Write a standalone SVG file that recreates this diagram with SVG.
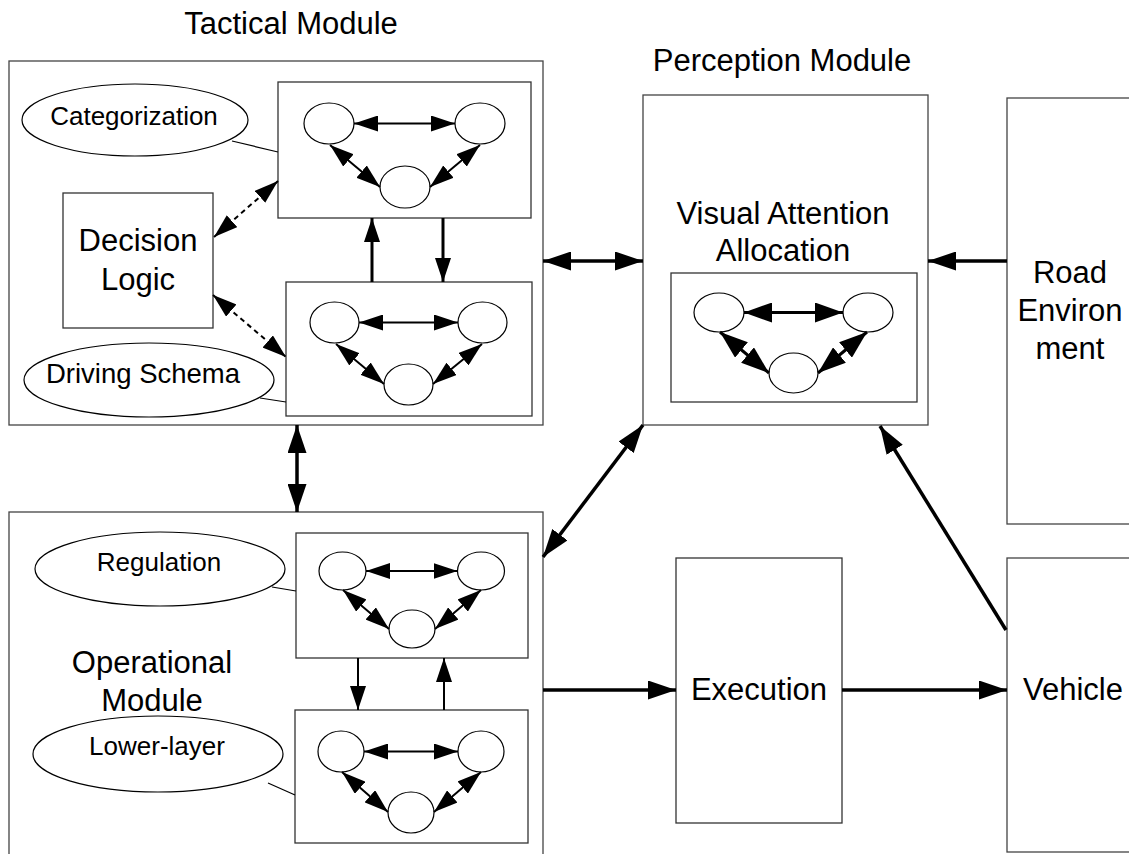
<svg xmlns="http://www.w3.org/2000/svg" width="1129" height="854" viewBox="0 0 1129 854">
<style>
.box{fill:#fff;stroke:#333;stroke-width:1.3}
.obox{fill:none;stroke:#444;stroke-width:1.3}
.el{fill:#fff;stroke:#000;stroke-width:1.2}
.t{font-family:"Liberation Sans",Arial,sans-serif;fill:#000;text-anchor:middle}
.big{font-size:31px}
.sm{font-size:26px}
.a{stroke:#000;fill:none}
.w35{stroke-width:3.5}
.w3{stroke-width:3}
.w2{stroke-width:2}
.dash{stroke-width:2;stroke-dasharray:5 4}
.ln{stroke:#000;stroke-width:1.2;fill:none}
</style>
<defs>
<marker id="h" viewBox="0 0 28 19" refX="28" refY="9.5" markerWidth="28" markerHeight="19" markerUnits="userSpaceOnUse" orient="auto-start-reverse"><path d="M0,0 L28,9.5 L0,19 z" fill="#000"/></marker>
<marker id="s" viewBox="0 0 24 16" refX="24" refY="8" markerWidth="24" markerHeight="16" markerUnits="userSpaceOnUse" orient="auto-start-reverse"><path d="M0,0 L24,8 L0,16 z" fill="#000"/></marker>
<marker id="p" viewBox="0 0 28 20" refX="28" refY="10" markerWidth="28" markerHeight="20" markerUnits="userSpaceOnUse" orient="auto-start-reverse"><path d="M0,0 L28,10 L0,20 z" fill="#000"/></marker>
</defs>

<g id="tactical">
<rect class="obox" x="9" y="61" width="534" height="364"/>
<text class="t big" x="291" y="34">Tactical Module</text>
</g>
<g id="categorization">
<ellipse class="el" cx="135" cy="120" rx="113" ry="36"/>
<text class="t sm" x="134" y="125">Categorization</text>
</g>
<g id="decision-logic">
<rect class="box" x="63" y="193" width="150" height="135"/>
<text class="t big" x="138" y="251">Decision</text>
<text class="t big" x="138" y="290">Logic</text>
</g>
<g id="driving-schema">
<ellipse class="el" cx="149" cy="380" rx="125" ry="37"/>
<text class="t" style="font-size:27.5px" x="143" y="383">Driving Schema</text>
</g>
<g id="tac-net1">
<rect class="box" x="278" y="82" width="253" height="136"/>
<ellipse class="el" cx="329" cy="123.5" rx="25" ry="20.5"/>
<ellipse class="el" cx="480" cy="123.5" rx="25" ry="20.5"/>
<ellipse class="el" cx="405" cy="187" rx="25" ry="21"/>
</g>
<g id="tac-net2">
<rect class="box" x="286" y="282" width="246" height="134"/>
<ellipse class="el" cx="334.5" cy="322.5" rx="24.5" ry="20.5"/>
<ellipse class="el" cx="482.5" cy="322.5" rx="24.5" ry="20.5"/>
<ellipse class="el" cx="408.5" cy="384.5" rx="24.5" ry="20.5"/>
</g>

<g id="perception">
<rect class="obox" x="643" y="95" width="285" height="330"/>
<text class="t big" x="782" y="71">Perception Module</text>
<text class="t big" x="783" y="224">Visual Attention</text>
<text class="t big" x="783" y="261">Allocation</text>
</g>
<g id="perc-net">
<rect class="box" x="671" y="273" width="246" height="129"/>
<ellipse class="el" cx="719" cy="312.5" rx="25" ry="19.5"/>
<ellipse class="el" cx="868" cy="312.5" rx="25" ry="19.5"/>
<ellipse class="el" cx="793.5" cy="373" rx="24.5" ry="20"/>
</g>

<g id="road-environment">
<rect class="obox" x="1007" y="98" width="140" height="426"/>
<text class="t big" x="1070" y="283">Road</text>
<text class="t big" x="1070" y="321">Environ</text>
<text class="t big" x="1070" y="359">ment</text>
</g>

<g id="operational">
<rect class="obox" x="9" y="512" width="534" height="350"/>
<text class="t big" x="152" y="673">Operational</text>
<text class="t big" x="152" y="711">Module</text>
</g>
<g id="regulation">
<ellipse class="el" cx="160" cy="569" rx="125" ry="37"/>
<text class="t sm" x="159" y="571">Regulation</text>
</g>
<g id="lower-layer">
<ellipse class="el" cx="158" cy="754" rx="125" ry="38"/>
<text class="t sm" x="157" y="755">Lower-layer</text>
</g>
<g id="op-net1">
<rect class="box" x="296" y="533" width="232" height="125"/>
<ellipse class="el" cx="342.5" cy="571" rx="23.5" ry="19"/>
<ellipse class="el" cx="481" cy="571" rx="23.5" ry="19"/>
<ellipse class="el" cx="412" cy="629" rx="23" ry="19"/>
</g>
<g id="op-net2">
<rect class="box" x="295" y="710" width="233" height="133"/>
<ellipse class="el" cx="341" cy="751.5" rx="23" ry="20.5"/>
<ellipse class="el" cx="481" cy="751.5" rx="23" ry="20.5"/>
<ellipse class="el" cx="411" cy="812.5" rx="23" ry="20.5"/>
</g>

<g id="execution">
<rect class="box" x="676" y="558" width="166" height="265"/>
<text class="t big" x="759" y="700">Execution</text>
</g>
<g id="vehicle">
<rect class="obox" x="1007" y="558" width="140" height="294"/>
<text class="t big" x="1073" y="700">Vehicle</text>
</g>

<g id="connectors">
<line class="ln" x1="232" y1="141" x2="278" y2="152"/>
<line class="ln" x1="260" y1="398" x2="286" y2="402"/>
<line class="ln" x1="272" y1="587" x2="296" y2="591"/>
<line class="ln" x1="268" y1="783" x2="295" y2="795"/>
<line class="a dash" x1="214" y1="237" x2="278" y2="181" marker-start="url(#s)" marker-end="url(#s)"/>
<line class="a dash" x1="213" y1="295" x2="286" y2="357" marker-start="url(#s)" marker-end="url(#s)"/>
<line class="a w3" x1="372" y1="282" x2="372" y2="218" marker-end="url(#s)"/>
<line class="a w3" x1="443" y1="218" x2="443" y2="282" marker-end="url(#s)"/>
<line class="a w2" x1="358" y1="658" x2="358" y2="710" marker-end="url(#s)"/>
<line class="a w2" x1="444" y1="710" x2="444" y2="658" marker-end="url(#s)"/>
<line class="a w2" x1="354" y1="123.5" x2="455" y2="123.5" marker-start="url(#s)" marker-end="url(#s)"/>
<line class="a w2" x1="330" y1="145" x2="380" y2="187" marker-start="url(#s)" marker-end="url(#s)"/>
<line class="a w2" x1="480" y1="145" x2="430" y2="187" marker-start="url(#s)" marker-end="url(#s)"/>
<line class="a w2" x1="359" y1="322.5" x2="458" y2="322.5" marker-start="url(#s)" marker-end="url(#s)"/>
<line class="a w2" x1="336" y1="344" x2="384" y2="384" marker-start="url(#s)" marker-end="url(#s)"/>
<line class="a w2" x1="482" y1="344" x2="433" y2="384" marker-start="url(#s)" marker-end="url(#s)"/>
<line class="a w2" x1="366" y1="571" x2="457.5" y2="571" marker-start="url(#s)" marker-end="url(#s)"/>
<line class="a w2" x1="343" y1="590" x2="389" y2="629" marker-start="url(#s)" marker-end="url(#s)"/>
<line class="a w2" x1="481" y1="590" x2="435" y2="629" marker-start="url(#s)" marker-end="url(#s)"/>
<line class="a w2" x1="364" y1="751.5" x2="458" y2="751.5" marker-start="url(#s)" marker-end="url(#s)"/>
<line class="a w2" x1="342" y1="772" x2="388" y2="812" marker-start="url(#s)" marker-end="url(#s)"/>
<line class="a w2" x1="481" y1="772" x2="434" y2="812" marker-start="url(#s)" marker-end="url(#s)"/>
<line class="a w3" x1="744" y1="312.5" x2="843" y2="312.5" marker-start="url(#p)" marker-end="url(#p)"/>
<line class="a w3" x1="720" y1="332" x2="769" y2="373" marker-start="url(#p)" marker-end="url(#p)"/>
<line class="a w3" x1="867" y1="332" x2="818" y2="373" marker-start="url(#p)" marker-end="url(#p)"/>
<line class="a w35" x1="543" y1="261" x2="643" y2="261" marker-start="url(#h)" marker-end="url(#h)"/>
<line class="a w35" x1="297" y1="425" x2="297" y2="512" marker-start="url(#h)" marker-end="url(#h)"/>
<line class="a w35" x1="543" y1="557" x2="643" y2="425" marker-start="url(#h)" marker-end="url(#h)"/>
<line class="a w35" x1="1007" y1="261" x2="928" y2="261" marker-end="url(#h)"/>
<line class="a w35" x1="1006" y1="630" x2="880" y2="426" marker-end="url(#h)"/>
<line class="a w35" x1="543" y1="690" x2="676" y2="690" marker-end="url(#h)"/>
<line class="a w35" x1="842" y1="690" x2="1007" y2="690" marker-end="url(#h)"/>
</g>
</svg>
